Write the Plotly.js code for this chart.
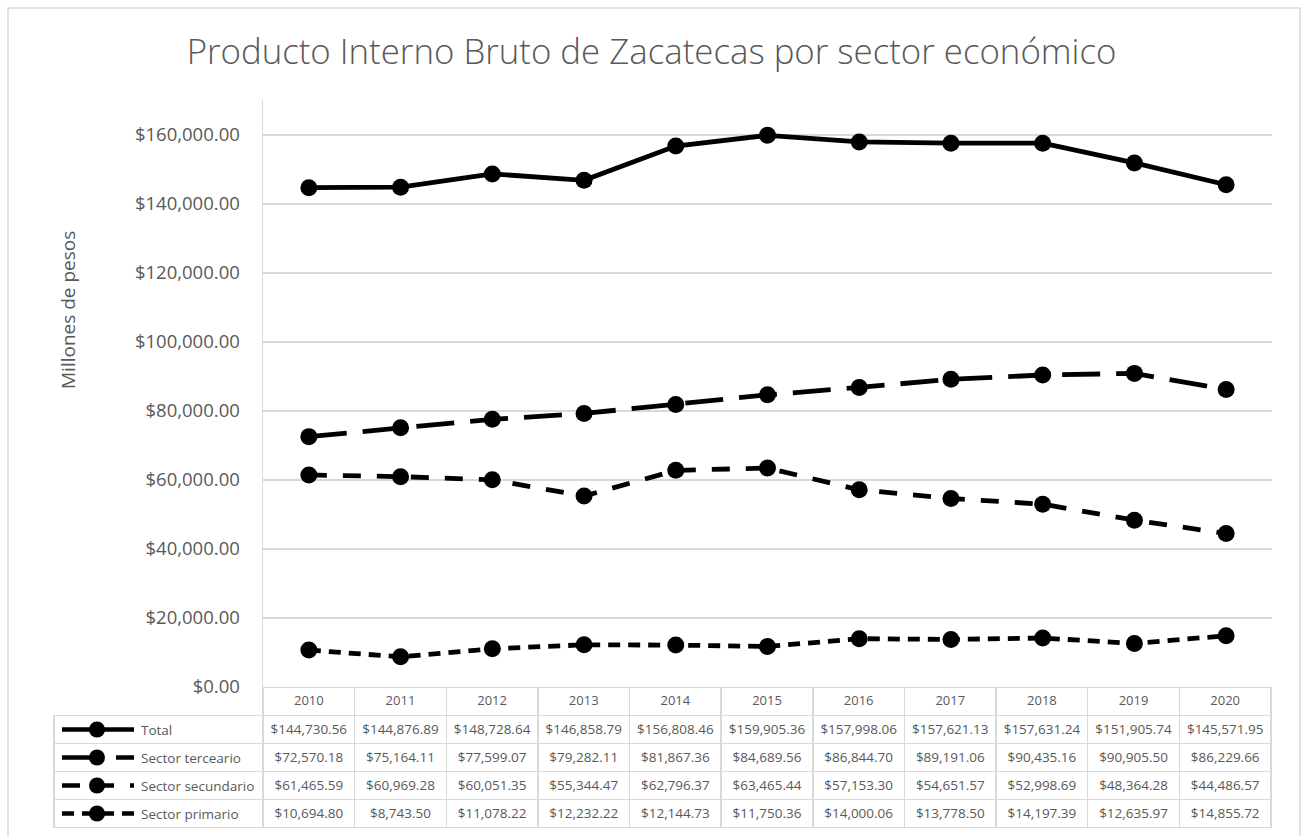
<!DOCTYPE html>
<html>
<head>
<meta charset="utf-8">
<script src="https://cdn.plot.ly/plotly-3.0.1.min.js"></script>
<style>html,body{margin:0;padding:0;background:#fff;}#chart{width:1303px;height:836px;}</style>
</head>
<body>
<div id="chart"></div>
<script>
// ---- data ----
const years = ['2010','2011','2012','2013','2014','2015','2016','2017','2018','2019','2020'];
const seriesNames = ['Total','Sector terceario','Sector secundario','Sector primario'];
const total = [144730.56,144876.89,148728.64,146858.79,156808.46,159905.36,157998.06,157621.13,157631.24,151905.74,145571.95];
const terceario = [72570.18,75164.11,77599.07,79282.11,81867.36,84689.56,86844.70,89191.06,90435.16,90905.50,86229.66];
const secundario = [61465.59,60969.28,60051.35,55344.47,62796.37,63465.44,57153.30,54651.57,52998.69,48364.28,44486.57];
const primario = [10694.80,8743.50,11078.22,12232.22,12144.73,11750.36,14000.06,13778.50,14197.39,12635.97,14855.72];
const yTicks = [0,20000,40000,60000,80000,100000,120000,140000,160000];

// ---- layout helpers (pixel -> paper) ----
const W = 1303, H = 836;
const px = x => x / W;
const py = y => 1 - y / H;

const allSeries = [total, terceario, secundario, primario];
const dashes = ['solid', '38px,16px', '18px,16px', '12px,8px'];
const gray = '#595959';
const font = 'Open Sans, Noto Sans, sans-serif';

const traces = allSeries.map((vals, i) => ({
  type: 'scatter', mode: 'lines+markers',
  x: years, y: vals, name: seriesNames[i],
  line: {color: '#000', width: 4.8, dash: dashes[i]},
  marker: {color: '#000', size: 17},
  showlegend: false, hoverinfo: 'skip'
}));

// data table (years x series)
const rowH = 28;
const tableTop = 687.5;
traces.push({
  type: 'table',
  domain: {x: [px(263), px(1272)], y: [py(833), py(tableTop)]},
  columnwidth: years.map(() => 1),
  header: {
    values: years,
    height: rowH,
    align: 'center',
    line: {color: '#d9d9d9', width: 1.5},
    fill: {color: '#fff'},
    font: {family: font, size: 13, color: gray}
  },
  cells: {
    values: years.map((_, c) => allSeries.map(s => s[c])),
    format: years.map(() => '$,.2f'),
    height: rowH,
    align: 'center',
    line: {color: '#d9d9d9', width: 1.5},
    fill: {color: '#fff'},
    font: {family: font, size: 13.5, color: gray}
  }
});
// legend-key column (borders only; keys and names drawn below)
traces.push({
  type: 'table',
  domain: {x: [px(54), px(263)], y: [py(833), py(tableTop + rowH)]},
  header: {
    values: [''], height: rowH,
    line: {color: '#d9d9d9', width: 1.5}, fill: {color: '#fff'},
    font: {family: font, size: 13.5, color: gray}
  },
  cells: {
    values: [['', '', '']], height: rowH,
    line: {color: '#d9d9d9', width: 1.5}, fill: {color: '#fff'},
    font: {family: font, size: 13.5, color: gray}
  }
});

const shapes = [{
  type: 'rect', xref: 'paper', yref: 'paper',
  x0: px(8), x1: px(1300), y0: py(842), y1: py(8),
  line: {color: '#d9d9d9', width: 1.5}, fillcolor: 'rgba(0,0,0,0)'
}];
const annotations = [{
  xref: 'paper', yref: 'paper', x: px(68), y: py(310),
  text: 'Millones de pesos', textangle: -90, showarrow: false,
  font: {family: font, size: 19, color: gray}, xanchor: 'center', yanchor: 'middle'
}];
seriesNames.forEach((name, i) => {
  const yc = tableTop + rowH * (i + 1) + rowH / 2;
  shapes.push({
    type: 'line', xref: 'paper', yref: 'paper',
    x0: px(62), x1: px(134), y0: py(yc), y1: py(yc),
    line: {color: '#000', width: 4.5, dash: dashes[i]}
  });
  shapes.push({
    type: 'circle', xref: 'paper', yref: 'paper',
    x0: px(97 - 8), x1: px(97 + 8), y0: py(yc + 8), y1: py(yc - 8),
    line: {color: '#000', width: 0}, fillcolor: '#000'
  });
  annotations.push({
    xref: 'paper', yref: 'paper', x: px(139), y: py(yc),
    text: name, showarrow: false, xanchor: 'left', yanchor: 'middle',
    font: {family: font, size: 13.5, color: gray}
  });
});

const layout = {
  width: W, height: H,
  margin: {l: 0, r: 0, t: 0, b: 0},
  paper_bgcolor: '#fff', plot_bgcolor: '#fff',
  title: {
    text: 'Producto Interno Bruto de Zacatecas por sector económico',
    x: 0.5, xanchor: 'center', y: py(52), yanchor: 'middle',
    font: {family: font, size: 34.8, color: gray, weight: 300}
  },
  xaxis: {
    domain: [px(263), px(1272)], type: 'category', range: [-0.5, 10.5],
    showticklabels: false, showgrid: false, zeroline: false, showline: false, ticks: ''
  },
  yaxis: {
    domain: [py(687), py(100)], range: [0, 170145],
    tickvals: yTicks, tickformat: '$,.2f',
    tickfont: {family: font, size: 18.5, color: gray},
    showgrid: true, gridcolor: '#d9d9d9', gridwidth: 1.5,
    zeroline: false, showline: true, linecolor: '#d9d9d9', linewidth: 1.5,
    ticks: '', ticklabelstandoff: 18
  },
  shapes: shapes,
  annotations: annotations,
  showlegend: false
};

Plotly.newPlot('chart', traces, layout, {displayModeBar: false, staticPlot: true});
</script>
</body>
</html>
